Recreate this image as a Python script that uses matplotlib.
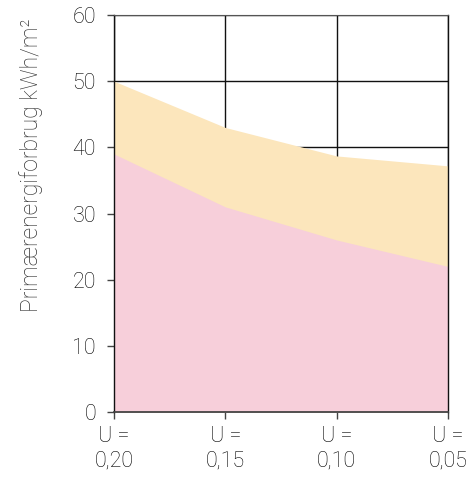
import matplotlib
matplotlib.use("Agg")
import matplotlib.pyplot as plt

plt.rcParams['font.family'] = ['Roboto', 'DejaVu Sans']

categories = ["U =\n0,20", "U =\n0,15", "U =\n0,10", "U =\n0,05"]
lower = [39, 31, 26, 22]
upper = [50, 43, 38.7, 37.2]
yticks = [0, 10, 20, 30, 40, 50, 60]
ylabel = "Primærenergiforbrug kWh/m²"

W, H = 472, 482
fig = plt.figure(figsize=(W/100, H/100), dpi=100)
ax = fig.add_axes([114/W, (H-412)/H, (448-114)/W, (412-15)/H])
x = list(range(len(categories)))

ax.set_axisbelow(True)
ax.grid(True, color='#111111', linewidth=1.0, zorder=0)
ax.fill_between(x, 0, upper, color='#FCE6BC', linewidth=0, zorder=2)
ax.fill_between(x, 0, lower, color='#F7CFDA', linewidth=0, zorder=3)

ax.set_xlim(0, 3)
ax.set_ylim(0, 60)
ax.set_yticks(yticks)
ax.set_xticks(x)
ax.set_xticklabels(categories, linespacing=1.25)
for sp in ['left', 'right']:
    ax.spines[sp].set_color('#111111')
    ax.spines[sp].set_linewidth(1.0)
ax.spines['top'].set_color('#555555')
ax.spines['bottom'].set_color('#444444')
ax.spines['bottom'].set_linewidth(1.3)
for sp in ax.spines.values():
    sp.set_zorder(5)

ax.tick_params(axis='both', direction='out', length=5, color='#444444', width=1.0,
               labelsize=15.5, labelcolor='#000000')
ax.tick_params(axis='x', pad=5)
ax.tick_params(axis='y', pad=8)
for lab in ax.get_xticklabels() + ax.get_yticklabels():
    lab.set_fontweight('light')

ax.set_ylabel(ylabel, fontsize=16.5, color='#333333', fontweight='light')
ax.yaxis.set_label_coords(-(114-43)/(448-114), (412-165)/(412-15))

fig.savefig("out.png", dpi=100)
